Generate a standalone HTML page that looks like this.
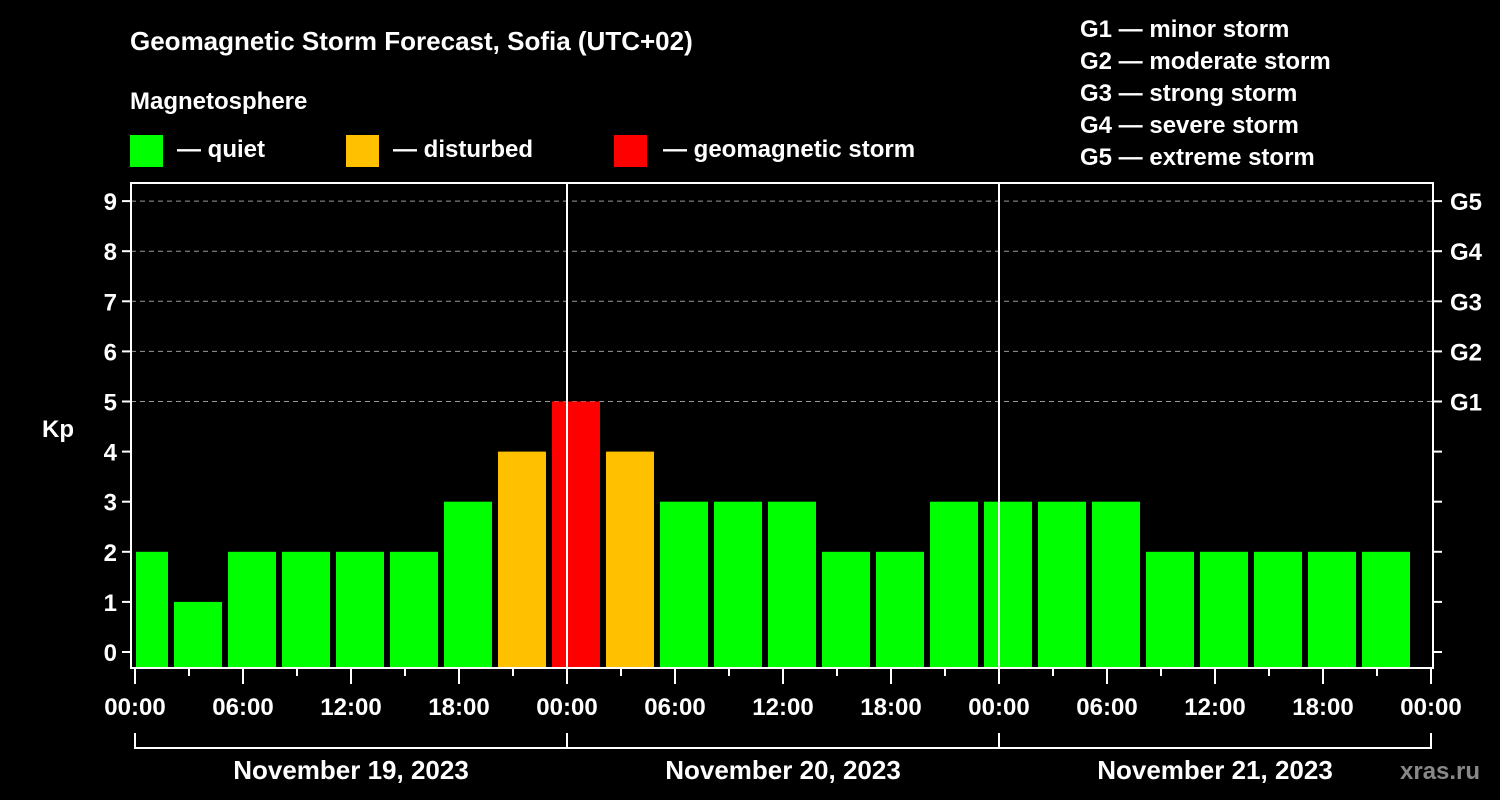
<!DOCTYPE html>
<html><head><meta charset="utf-8"><style>
body{margin:0;background:#000;}
svg{display:block;font-family:"Liberation Sans",sans-serif;font-weight:bold;}
</style></head><body>
<svg id="chart" width="1500" height="800">
<rect width="1500" height="800" fill="#000"/>
<text x="130" y="50" font-size="26" fill="#fff">Geomagnetic Storm Forecast, Sofia (UTC+02)</text>
<text x="130" y="109" font-size="24" fill="#fff">Magnetosphere</text>
<g><rect x="130" y="135" width="33" height="32" fill="#00ff00"/><text x="177" y="157" font-size="24" fill="#fff">— quiet</text></g>
<g><rect x="346" y="135" width="33" height="32" fill="#ffc000"/><text x="393" y="157" font-size="24" fill="#fff">— disturbed</text></g>
<g><rect x="614" y="135" width="33" height="32" fill="#ff0000"/><text x="663" y="157" font-size="24" fill="#fff">— geomagnetic storm</text></g>
<g font-size="24" fill="#fff">
<text x="1080" y="37">G1 — minor storm</text>
<text x="1080" y="69">G2 — moderate storm</text>
<text x="1080" y="101">G3 — strong storm</text>
<text x="1080" y="133">G4 — severe storm</text>
<text x="1080" y="165">G5 — extreme storm</text>
</g>
<text x="42" y="437" font-size="24" fill="#fff">Kp</text>
<g id="grid"></g><g id="bars"></g><g id="axes"></g>
<text x="1400" y="779" font-size="24" fill="#888">xras.ru</text>
</svg>
<script>
const kpValues=[2,2,1,2,2,2,2,3,4,5,4,3,3,3,2,2,3,3,3,3,2,2,2,2,2];
const firstBarHour=-2.5;
const yTicks=[0,1,2,3,4,5,6,7,8,9];
const gLabels=["G1","G2","G3","G4","G5"];
const gLevels=[5,6,7,8,9];
const xTickLabels=["00:00","06:00","12:00","18:00","00:00","06:00","12:00","18:00","00:00","06:00","12:00","18:00","00:00"];
const dayLabels=["November 19, 2023","November 20, 2023","November 21, 2023"];
const NS="http://www.w3.org/2000/svg";
const L=131,R=1433,T=183,B=668,X0=135,PXH=18;
const x=h=>X0+h*PXH;
const y=v=>652-v*50.1;
function mk(tag,attrs,parent){const e=document.createElementNS(NS,tag);for(const k in attrs)e.setAttribute(k,attrs[k]);parent.appendChild(e);return e;}
const grid=document.getElementById('grid'),bars=document.getElementById('bars'),axes=document.getElementById('axes');
gLevels.forEach((v,i)=>{
 const l=mk('line',{x1:L,x2:R,y1:y(v),y2:y(v),stroke:'#999','stroke-dasharray':'5,4','stroke-width':1},grid);
 
 
 const t=mk('text',{x:1450,y:y(v)+9,'font-size':24,fill:'#fff'},axes);t.textContent=gLabels[i];
 
 
});
kpValues.forEach((v,i)=>{
 const c=firstBarHour+3*i;
 let x1=Math.max(x(c)-24,L+5),x2=Math.min(x(c)+24,R-5);
 if(x2<=x1)return;
 const col=v>=5?'#ff0000':(v>=4?'#ffc000':'#00ff00');
 const r=mk('rect',{x:x1,y:y(v),width:x2-x1,height:B-y(v),fill:col},bars);
 
 
});
mk('rect',{x:L,y:T,width:R-L,height:B-T,fill:'none',stroke:'#fff','stroke-width':2},axes);
[24,48].forEach(h=>mk('line',{x1:x(h),x2:x(h),y1:T,y2:B,stroke:'#fff','stroke-width':2},axes));
yTicks.forEach(v=>{
 mk('line',{x1:122,x2:L,y1:y(v),y2:y(v),stroke:'#fff','stroke-width':2},axes);
 mk('line',{x1:R,x2:1442,y1:y(v),y2:y(v),stroke:'#fff','stroke-width':2},axes);
 const t=mk('text',{x:117,y:y(v)+9,'font-size':24,fill:'#fff','text-anchor':'end'},axes);t.textContent=v;
 
 
});
for(let h=0;h<=72;h+=3){mk('line',{x1:x(h),x2:x(h),y1:B,y2:B+(h%6==0?16:8),stroke:'#fff','stroke-width':2},axes);}
xTickLabels.forEach((s,i)=>{
 const t=mk('text',{x:x(i*6),y:715,'font-size':24,fill:'#fff','text-anchor':'middle'},axes);t.textContent=s;
 
 
});
mk('line',{x1:x(0),x2:x(72),y1:748,y2:748,stroke:'#fff','stroke-width':2},axes);
[0,24,48,72].forEach(h=>mk('line',{x1:x(h),x2:x(h),y1:733,y2:749,stroke:'#fff','stroke-width':2},axes));
dayLabels.forEach((s,i)=>{
 const t=mk('text',{x:x(i*24+12),y:779,'font-size':26,fill:'#fff','text-anchor':'middle'},axes);t.textContent=s;
 
 
});
</script>
</body></html>
